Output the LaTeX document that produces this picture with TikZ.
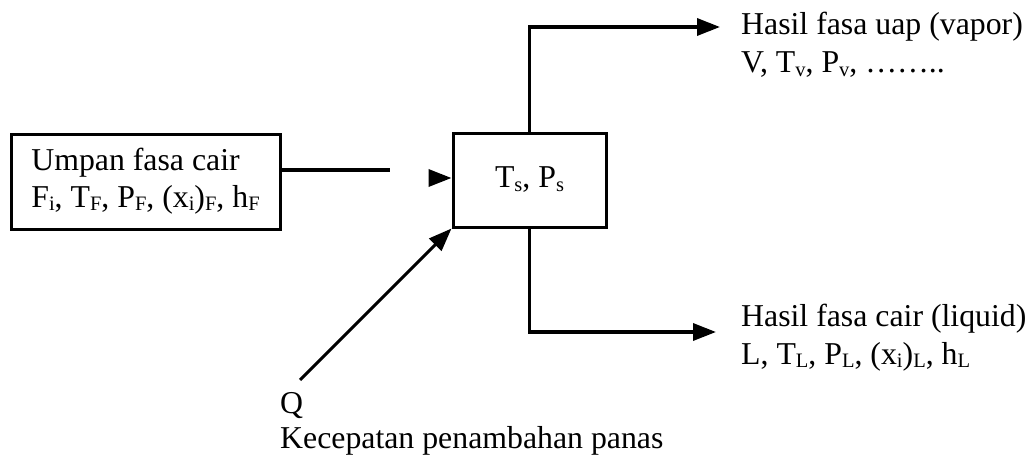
\documentclass[tikz,border=0pt]{standalone}
\usepackage{fontspec}
\setmainfont{Liberation Serif}
\usetikzlibrary{arrows.meta}
\newcommand\lo[1]{\raisebox{-0.1em}{\fontsize{20.5}{20.5}\selectfont #1}}
\tikzset{
  every node/.style={font=\fontsize{31.8}{37}\selectfont, inner sep=0pt},
  boxnode/.style={draw, line width=3pt, rectangle},
  flow/.style={line width=3.5pt},
  tip/.style={-{Triangle[length=23pt,width=17pt]}},
  lbl/.style={anchor=base west},
}
\begin{document}
\begin{tikzpicture}[x=1pt,y=-1pt]
\useasboundingbox (0,0) rectangle (1034,460);
% boxes
\node[boxnode, minimum width=269pt, minimum height=95pt, align=left] (lbox) at (145.5,181.5)
  {Umpan fasa cair\\F\lo{i}, T\lo{F}, P\lo{F}, (x\lo{i})\lo{F}, h\lo{F}};
\node[boxnode, minimum width=153pt, minimum height=94pt] (cbox) at (529.5,180) {T\lo{s}, P\lo{s}};
% free ends
\coordinate (feedEnd) at (390,170);
\coordinate (feedHead) at (431,178);
\coordinate (vapTip) at (720,27);
\coordinate (liqTip) at (716,332);
\coordinate (qStart) at (300,380);
% labels
\node[lbl] (vap1) at (741,35) {Hasil fasa uap (vapor)};
\node[lbl] (vap2) at (741,73) {V, T\lo{v}, P\lo{v}, ……..};
\node[lbl] (liq1) at (741,326) {Hasil fasa cair (liquid)};
\node[lbl] (liq2) at (741,364) {L, T\lo{L}, P\lo{L}, (x\lo{i})\lo{L}, h\lo{L}};
\node[lbl] (q) at (280,413) {Q};
\node[lbl] (qtxt) at (280,448) {Kecepatan penambahan panas};
% connectors
\draw[flow] (lbox.east |- feedEnd) -- (feedEnd);
\draw[flow, tip] (feedHead) -- (feedHead -| cbox.west);
\draw[flow, tip] (cbox.north) |- (vapTip);
\draw[flow, tip] (cbox.south) |- (liqTip);
\draw[line width=3pt, tip] (qStart) -- (cbox.south west);
\end{tikzpicture}
\end{document}
